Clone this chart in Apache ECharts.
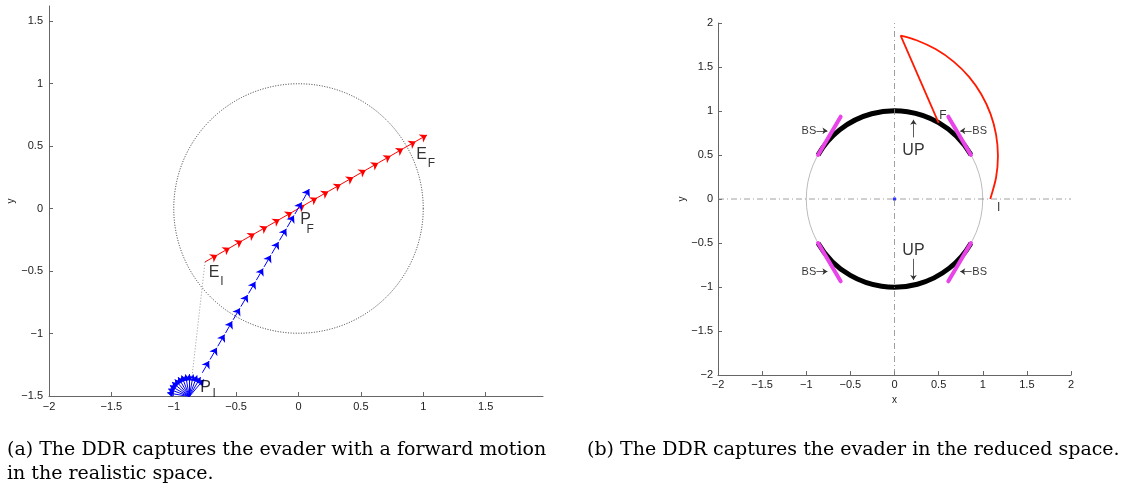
<!DOCTYPE html>
<html><head><meta charset="utf-8">
<script src="https://cdn.jsdelivr.net/npm/echarts@6/dist/echarts.min.js"></script>
<style>html,body{margin:0;padding:0;background:#fff}#c{width:1143px;height:491px}</style>
</head><body><div id="c"></div><script>
// ---------- data ----------
const ticksLX = [-2, -1.5, -1, -0.5, 0, 0.5, 1, 1.5];
const ticksLY = [-1.5, -1, -0.5, 0, 0.5, 1, 1.5];
const ticksR  = [-2, -1.5, -1, -0.5, 0, 0.5, 1, 1.5, 2];

// (a) evader path (red quiver points)
const evaderX = [-0.75, -0.65, -0.55, -0.45, -0.35, -0.25, -0.15, -0.05, 0.05, 0.15, 0.24, 0.34, 0.44, 0.54, 0.64, 0.74, 0.84, 0.94, 1.03];
const evaderY = [-0.428, -0.371, -0.314, -0.257, -0.200, -0.143, -0.086, -0.029, 0.029, 0.086, 0.137, 0.194, 0.251, 0.308, 0.365, 0.422, 0.480, 0.537, 0.588];
// (a) pursuer path (blue quiver points)
const pursuerX = [-0.771, -0.709, -0.647, -0.585, -0.524, -0.462, -0.400, -0.338, -0.276, -0.214, -0.152, -0.090, -0.029, 0.033, 0.094];
const pursuerY = [-1.314, -1.208, -1.102, -0.996, -0.890, -0.785, -0.679, -0.573, -0.467, -0.361, -0.255, -0.149, -0.044, 0.062, 0.168];
// (a) pursuer initial rotation fan
const fanCenter = [-0.875, -1.505];
const fanTipX = [-1.052, -1.044, -1.031, -1.013, -0.991, -0.965, -0.937, -0.906, -0.875, -0.844, -0.813, -0.785, -0.759];
const fanTipY = [-1.474, -1.443, -1.415, -1.389, -1.367, -1.349, -1.336, -1.328, -1.325, -1.328, -1.336, -1.349, -1.367];
// (a) dotted link E_I -> P_I
const linkX = [-0.749, -0.858];
const linkY = [-0.427, -1.385];
// (a) capture circle  [cx, cy, r]
const circleA = [0, 0, 1];

// (b) unit circle, thick usable-part arcs [cx,cy,r,startDeg,endDeg]
const circleB = [0, 0, 1];
const arcsB = [[0, 0, 1, 30, 150], [0, 0, 1, 210, 330]];
// (b) barrier segments (BS)
const bsX1 = [-0.866, 0.866, -0.866, 0.866];
const bsY1 = [0.5, 0.5, -0.5, -0.5];
const bsX2 = [-0.61, 0.61, -0.61, 0.61];
const bsY2 = [0.935, 0.935, -0.935, -0.935];
// (b) red trajectory in reduced space: F -> top -> ... -> I
const redX = [0.5, 0.07, 0.25, 0.47, 0.67, 0.845, 0.985, 1.088, 1.151, 1.172, 1.151, 1.085];
const redY = [0.866, 1.857, 1.804, 1.701, 1.561, 1.388, 1.188, 0.967, 0.731, 0.488, 0.244, 0.0];
// (b) annotation arrows [x1,y1,x2,y2]
const annArrows = [
  [0.215, 0.70, 0.215, 0.90], [0.215, -0.68, 0.215, -0.92],
  [-0.885, 0.775, -0.76, 0.775], [0.875, 0.775, 0.745, 0.775],
  [-0.885, -0.825, -0.76, -0.825], [0.875, -0.825, 0.745, -0.825]
];

// ---------- helpers ----------
const fmt = v => String(v).replace('-', '\u2212');
const FONT = 'Liberation Sans, Arial, Helvetica, sans-serif';
function axis(gi, min, max, ticks, name, nameGap, isY, lblMargin) {
  return {
    gridIndex: gi, type: 'value', min, max, name,
    nameLocation: 'middle', nameGap,
    nameTextStyle: { fontFamily: FONT, fontSize: 10, color: '#222' },
    axisLine: { onZero: false, lineStyle: { color: '#666', width: 1 } },
    axisTick: { inside: true, length: 4, customValues: ticks, lineStyle: { color: '#666' } },
    axisLabel: { customValues: ticks, formatter: fmt, fontFamily: FONT, fontSize: 11, color: '#222', margin: lblMargin },
    splitLine: { show: false }
  };
}
function seg(x1, y1, x2, y2) { return { coords: [[x1, y1], [x2, y2]] }; }
function circleSeries(gi, c, stroke, width, dash) {
  return {
    type: 'custom', xAxisIndex: gi, yAxisIndex: gi, data: [c], silent: true,
    renderItem: (p, api) => {
      const ctr = api.coord([api.value(0), api.value(1)]);
      const r = api.size([api.value(2), 0])[0];
      return { type: 'circle', shape: { cx: ctr[0], cy: ctr[1], r },
        style: { fill: 'none', stroke, lineWidth: width, lineDash: dash } };
    }
  };
}
function labelPts(gi, items) {
  return {
    type: 'scatter', xAxisIndex: gi, yAxisIndex: gi, symbolSize: 0, silent: true, z: 10,
    data: items.map(t => ({ value: [t[0], t[1]],
      label: { show: true, position: 'inside', formatter: t[2], fontFamily: FONT, fontSize: t[3], color: '#000' } }))
  };
}

// ---------- build series ----------
const series = [];
// (a)
series.push(circleSeries(0, circleA, '#333', 1, [1, 1.6]));
series.push({ type: 'line', xAxisIndex: 0, yAxisIndex: 0, showSymbol: false, silent: true,
  data: linkX.map((x, i) => [x, linkY[i]]), lineStyle: { color: '#999', width: 1, type: [1, 2] } });
const redSegs = [];
for (let i = 0; i < evaderX.length - 1; i++) redSegs.push(seg(evaderX[i], evaderY[i], evaderX[i + 1], evaderY[i + 1]));
series.push({ type: 'lines', coordinateSystem: 'cartesian2d', xAxisIndex: 0, yAxisIndex: 0, silent: true,
  symbol: ['none', 'arrow'], symbolSize: [5, 7], lineStyle: { color: '#ff0000', width: 1, opacity: 1 }, data: redSegs });
const blueSegs = [];
for (let i = 0; i < pursuerX.length - 1; i++) {
  const dx = pursuerX[i + 1] - pursuerX[i], dy = pursuerY[i + 1] - pursuerY[i];
  blueSegs.push(seg(pursuerX[i], pursuerY[i], pursuerX[i] + 0.88 * dx, pursuerY[i] + 0.88 * dy));
}
series.push({ type: 'lines', coordinateSystem: 'cartesian2d', xAxisIndex: 0, yAxisIndex: 0, silent: true,
  symbol: ['none', 'arrow'], symbolSize: [5, 7], lineStyle: { color: '#0000ff', width: 1, opacity: 1 }, data: blueSegs });
series.push({ type: 'lines', coordinateSystem: 'cartesian2d', xAxisIndex: 0, yAxisIndex: 0, silent: true,
  symbol: ['none', 'arrow'], symbolSize: [5, 7], lineStyle: { color: '#0000ff', width: 1, opacity: 1 },
  data: fanTipX.map((x, i) => seg(fanCenter[0], fanCenter[1], x, fanTipY[i])) });
series.push(labelPts(0, [
  [-0.677, -0.516, 'E', 16], [-0.614, -0.585, 'I', 12],
  [0.986, 0.433, 'E', 16], [1.066, 0.362, 'F', 12],
  [0.057, -0.09, 'P', 16], [0.094, -0.17, 'F', 12],
  [-0.744, -1.432, 'P', 16], [-0.675, -1.482, 'I', 12]
]));
// (b)
series.push({ type: 'line', xAxisIndex: 1, yAxisIndex: 1, showSymbol: false, silent: true,
  data: [[0, -2], [0, 2]], lineStyle: { color: '#888', width: 0.8, type: [6, 3, 1, 3] } });
series.push({ type: 'line', xAxisIndex: 1, yAxisIndex: 1, showSymbol: false, silent: true,
  data: [[-2, 0], [2, 0]], lineStyle: { color: '#888', width: 0.8, type: [6, 3, 1, 3] } });
series.push(circleSeries(1, circleB, '#aaa', 0.8, null));
series.push({
  type: 'custom', xAxisIndex: 1, yAxisIndex: 1, data: arcsB, silent: true, z: 3,
  renderItem: (p, api) => {
    const ctr = api.coord([api.value(0), api.value(1)]);
    const r = api.size([api.value(2), 0])[0];
    return { type: 'arc', shape: { cx: ctr[0], cy: ctr[1], r,
      startAngle: -api.value(4) * Math.PI / 180, endAngle: -api.value(3) * Math.PI / 180, clockwise: true },
      style: { fill: null, stroke: '#000', lineWidth: 5 } };
  }
});
series.push({ type: 'lines', coordinateSystem: 'cartesian2d', xAxisIndex: 1, yAxisIndex: 1, silent: true, z: 4,
  lineStyle: { color: '#e844e8', width: 4, opacity: 1, cap: 'round' },
  data: bsX1.map((x, i) => seg(x, bsY1[i], bsX2[i], bsY2[i])) });
series.push({ type: 'line', xAxisIndex: 1, yAxisIndex: 1, showSymbol: false, silent: true, z: 5, smooth: 0.3,
  data: redX.map((x, i) => [x, redY[i]]), lineStyle: { color: '#ff1a00', width: 1.8 } });
series.push({ type: 'scatter', xAxisIndex: 1, yAxisIndex: 1, symbol: 'rect', symbolSize: 3, silent: true,
  data: [[0, 0]], itemStyle: { color: '#0000ff' } });
series.push({ type: 'lines', coordinateSystem: 'cartesian2d', xAxisIndex: 1, yAxisIndex: 1, silent: true,
  symbol: ['none', 'arrow'], symbolSize: 5, lineStyle: { color: '#333', width: 0.8, opacity: 1 },
  data: annArrows.map(a => seg(a[0], a[1], a[2], a[3])) });
series.push(labelPts(1, [
  [0.215, 0.555, 'UP', 16], [0.215, -0.585, 'UP', 16],
  [-0.97, 0.775, 'BS', 11], [0.965, 0.775, 'BS', 11],
  [-0.97, -0.825, 'BS', 11], [0.965, -0.825, 'BS', 11],
  [0.548, 0.951, 'F', 12], [1.18, -0.094, 'I', 12]
]));

const SERIF = 'DejaVu Serif, Liberation Serif, serif';
const option = {
  animation: false,
  backgroundColor: '#fff',
  grid: [
    { left: 49, top: 6, width: 494, height: 390 },
    { left: 718, top: 23, width: 353, height: 352 }
  ],
  xAxis: [axis(0, -2, 1.96, ticksLX, 'x', 16, false, 5), axis(1, -2, 2, ticksR, 'x', 14, false, 4)],
  yAxis: [axis(0, -1.5, 1.62, ticksLY, 'y', 33, true, 6), axis(1, -2, 2, ticksR, 'y', 30, true, 5)],
  series,
  graphic: [
    { type: 'rect', shape: { x: 270, y: 419, width: 60, height: 14 }, style: { fill: '#fff' }, z: 100 },
    { type: 'text', left: 7, top: 441, style: { text: '(a) The DDR captures the evader with a forward motion', font: '19px ' + SERIF, fill: '#000' } },
    { type: 'text', left: 7, top: 465, style: { text: 'in the realistic space.', font: '19px ' + SERIF, fill: '#000' } },
    { type: 'text', left: 587, top: 441, style: { text: '(b) The DDR captures the evader in the reduced space.', font: '19px ' + SERIF, fill: '#000' } }
  ]
};
echarts.init(document.getElementById('c')).setOption(option);
</script></body></html>
